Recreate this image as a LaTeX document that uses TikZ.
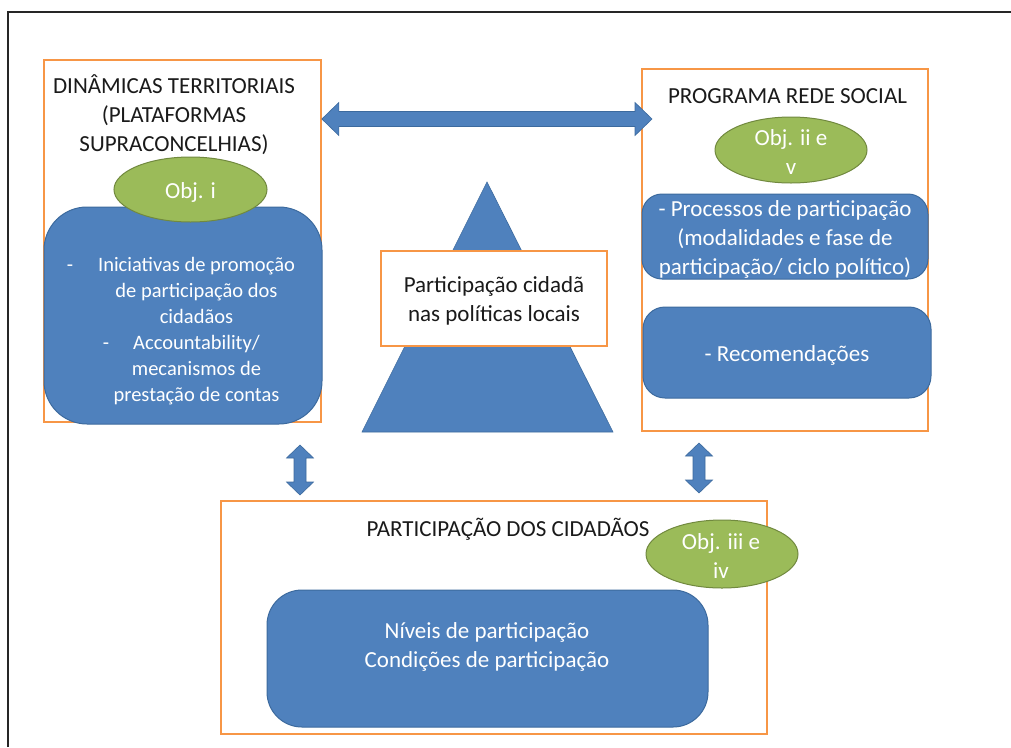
\documentclass[tikz,border=0pt]{standalone}
\usepackage{fontspec}
\setmainfont{Carlito}
\usetikzlibrary{calc,shapes.geometric}
\definecolor{obord}{HTML}{F79646}
\definecolor{bfill}{HTML}{4F81BD}
\definecolor{bbord}{HTML}{3C6A9E}
\definecolor{gfill}{HTML}{9BBB59}
\definecolor{gbord}{HTML}{71893F}
\definecolor{ttxt}{HTML}{1A1A1A}
\tikzset{
  obox/.style={draw=obord, line width=1.7pt, fill=white, inner sep=0pt},
  bbox/.style={draw=bbord, line width=1pt, fill=bfill, inner sep=0pt, text=white},
  gell/.style={ellipse, draw=gbord, line width=1pt, fill=gfill, inner sep=0pt, text=white},
  big/.style={font=\fontsize{23}{29}\selectfont, align=center, yshift=-2.5pt},
  small/.style={font=\fontsize{20.5}{26}\selectfont, align=center, yshift=-2.5pt},
  barrow/.style={fill=bfill, draw=bbord, line width=0.6pt, line join=miter}
}
\begin{document}
\begin{tikzpicture}[x=1pt,y=-1pt]
\useasboundingbox (0,0) rectangle (1011,747);
\fill[white] (0,0) rectangle (1011,747);
\draw[line width=2pt, black!85] (8,747) -- (8,12) -- (1011,12);

% left block
\node[obox, minimum width=277pt, minimum height=362pt] (dyn) at (182.5,241) {};
\node[big, text=ttxt] (dyntitle) at (174,114) {\strut DINÂMICAS TERRITORIAIS\\\strut(PLATAFORMAS\\\strut SUPRACONCELHIAS)};
\node[bbox, rounded corners=43pt, minimum width=278pt, minimum height=217pt] (dynblue) at (183,315.5) {};
\node[gell, minimum width=153pt, minimum height=65pt] (obj1) at (190.5,189.5) {};
\node[big, text=white] (obj1txt) at (190.5,190) {\strut Obj. i};
\node[small, text=white] (dyntext) at (196.5,329) {\strut Iniciativas de promoção\\\strut de participação dos\\\strut cidadãos\\\strut Accountability/\\\strut mecanismos de\\\strut prestação de contas};
\node[small, text=white] (dash1) at (70,264) {\strut-};
\node[small, text=white] (dash2) at (106,342) {\strut-};

% right block
\node[obox, minimum width=286pt, minimum height=362pt] (prog) at (785,250) {};
\node[big, text=ttxt] (progtitle) at (787.5,95) {\strut PROGRAMA REDE SOCIAL};
\node[gell, minimum width=152pt, minimum height=66pt] (obj2) at (791,150) {};
\node[big, text=white] (obj2txt) at (791,152) {\strut Obj. ii e\\\strut v};
\node[bbox, rounded corners=20pt, minimum width=286pt, minimum height=85pt] (proc) at (785,236.5) {};
\node[big, text=white] (proctxt) at (785,237) {\strut - Processos de participação\\\strut (modalidades e fase de\\\strut participação/ ciclo político)};
\node[bbox, rounded corners=22pt, minimum width=288pt, minimum height=91pt] (rec) at (787,352.5) {};
\node[big, text=white] (rectxt) at (787,353) {\strut - Recomendações};

% centre
\coordinate (tA) at (487,182);
\coordinate (tB) at (362,432);
\coordinate (tC) at (613,432);
\draw[barrow] (tA) -- (tB) -- (tC) -- cycle;
\node[obox, minimum width=226pt, minimum height=95pt] (centre) at (494,298.5) {};
\node[big, text=ttxt] (centretxt) at (494,299) {\strut Participação cidadã\\\strut nas políticas locais};

% bottom block
\node[obox, minimum width=546pt, minimum height=233pt] (cid) at (494,617.5) {};
\node[big, text=ttxt] (cidtitle) at (508,528) {\strut PARTICIPAÇÃO DOS CIDADÃOS};
\node[bbox, rounded corners=35pt, minimum width=441pt, minimum height=137pt] (niv) at (487.5,658.5) {};
\node[big, text=white] (nivtxt) at (487,644.5) {\strut Níveis de participação\\\strut Condições de participação};
\node[gell, minimum width=152pt, minimum height=68pt] (obj3) at (722,554) {};
\node[big, text=white] (obj3txt) at (721,556) {\strut Obj. iii e\\\strut iv};

% block arrows
\coordinate (hL) at (dyn.east |- 0,119);
\coordinate (hR) at (652,119);
\draw[barrow] (hL) -- ($(hL)+(17,-16.5)$) -- ($(hL)+(17,-7.5)$) -- ($(hR)+(-17,-7.5)$) -- ($(hR)+(-17,-16.5)$) -- (hR)
  -- ($(hR)+(-17,16.5)$) -- ($(hR)+(-17,7.5)$) -- ($(hL)+(17,7.5)$) -- ($(hL)+(17,16.5)$) -- cycle;

\coordinate (vLt) at (300,445);
\coordinate (vLb) at (300,495);
\draw[barrow] (vLt) -- ($(vLt)+(13.5,13)$) -- ($(vLt)+(6,13)$) -- ($(vLb)+(6,-13)$) -- ($(vLb)+(13.5,-13)$) -- (vLb)
  -- ($(vLb)+(-13.5,-13)$) -- ($(vLb)+(-6,-13)$) -- ($(vLt)+(-6,13)$) -- ($(vLt)+(-13.5,13)$) -- cycle;

\coordinate (vRt) at (699,443);
\coordinate (vRb) at (699,493);
\draw[barrow] (vRt) -- ($(vRt)+(13.5,13)$) -- ($(vRt)+(6,13)$) -- ($(vRb)+(6,-13)$) -- ($(vRb)+(13.5,-13)$) -- (vRb)
  -- ($(vRb)+(-13.5,-13)$) -- ($(vRb)+(-6,-13)$) -- ($(vRt)+(-6,13)$) -- ($(vRt)+(-13.5,13)$) -- cycle;
\end{tikzpicture}
\end{document}
